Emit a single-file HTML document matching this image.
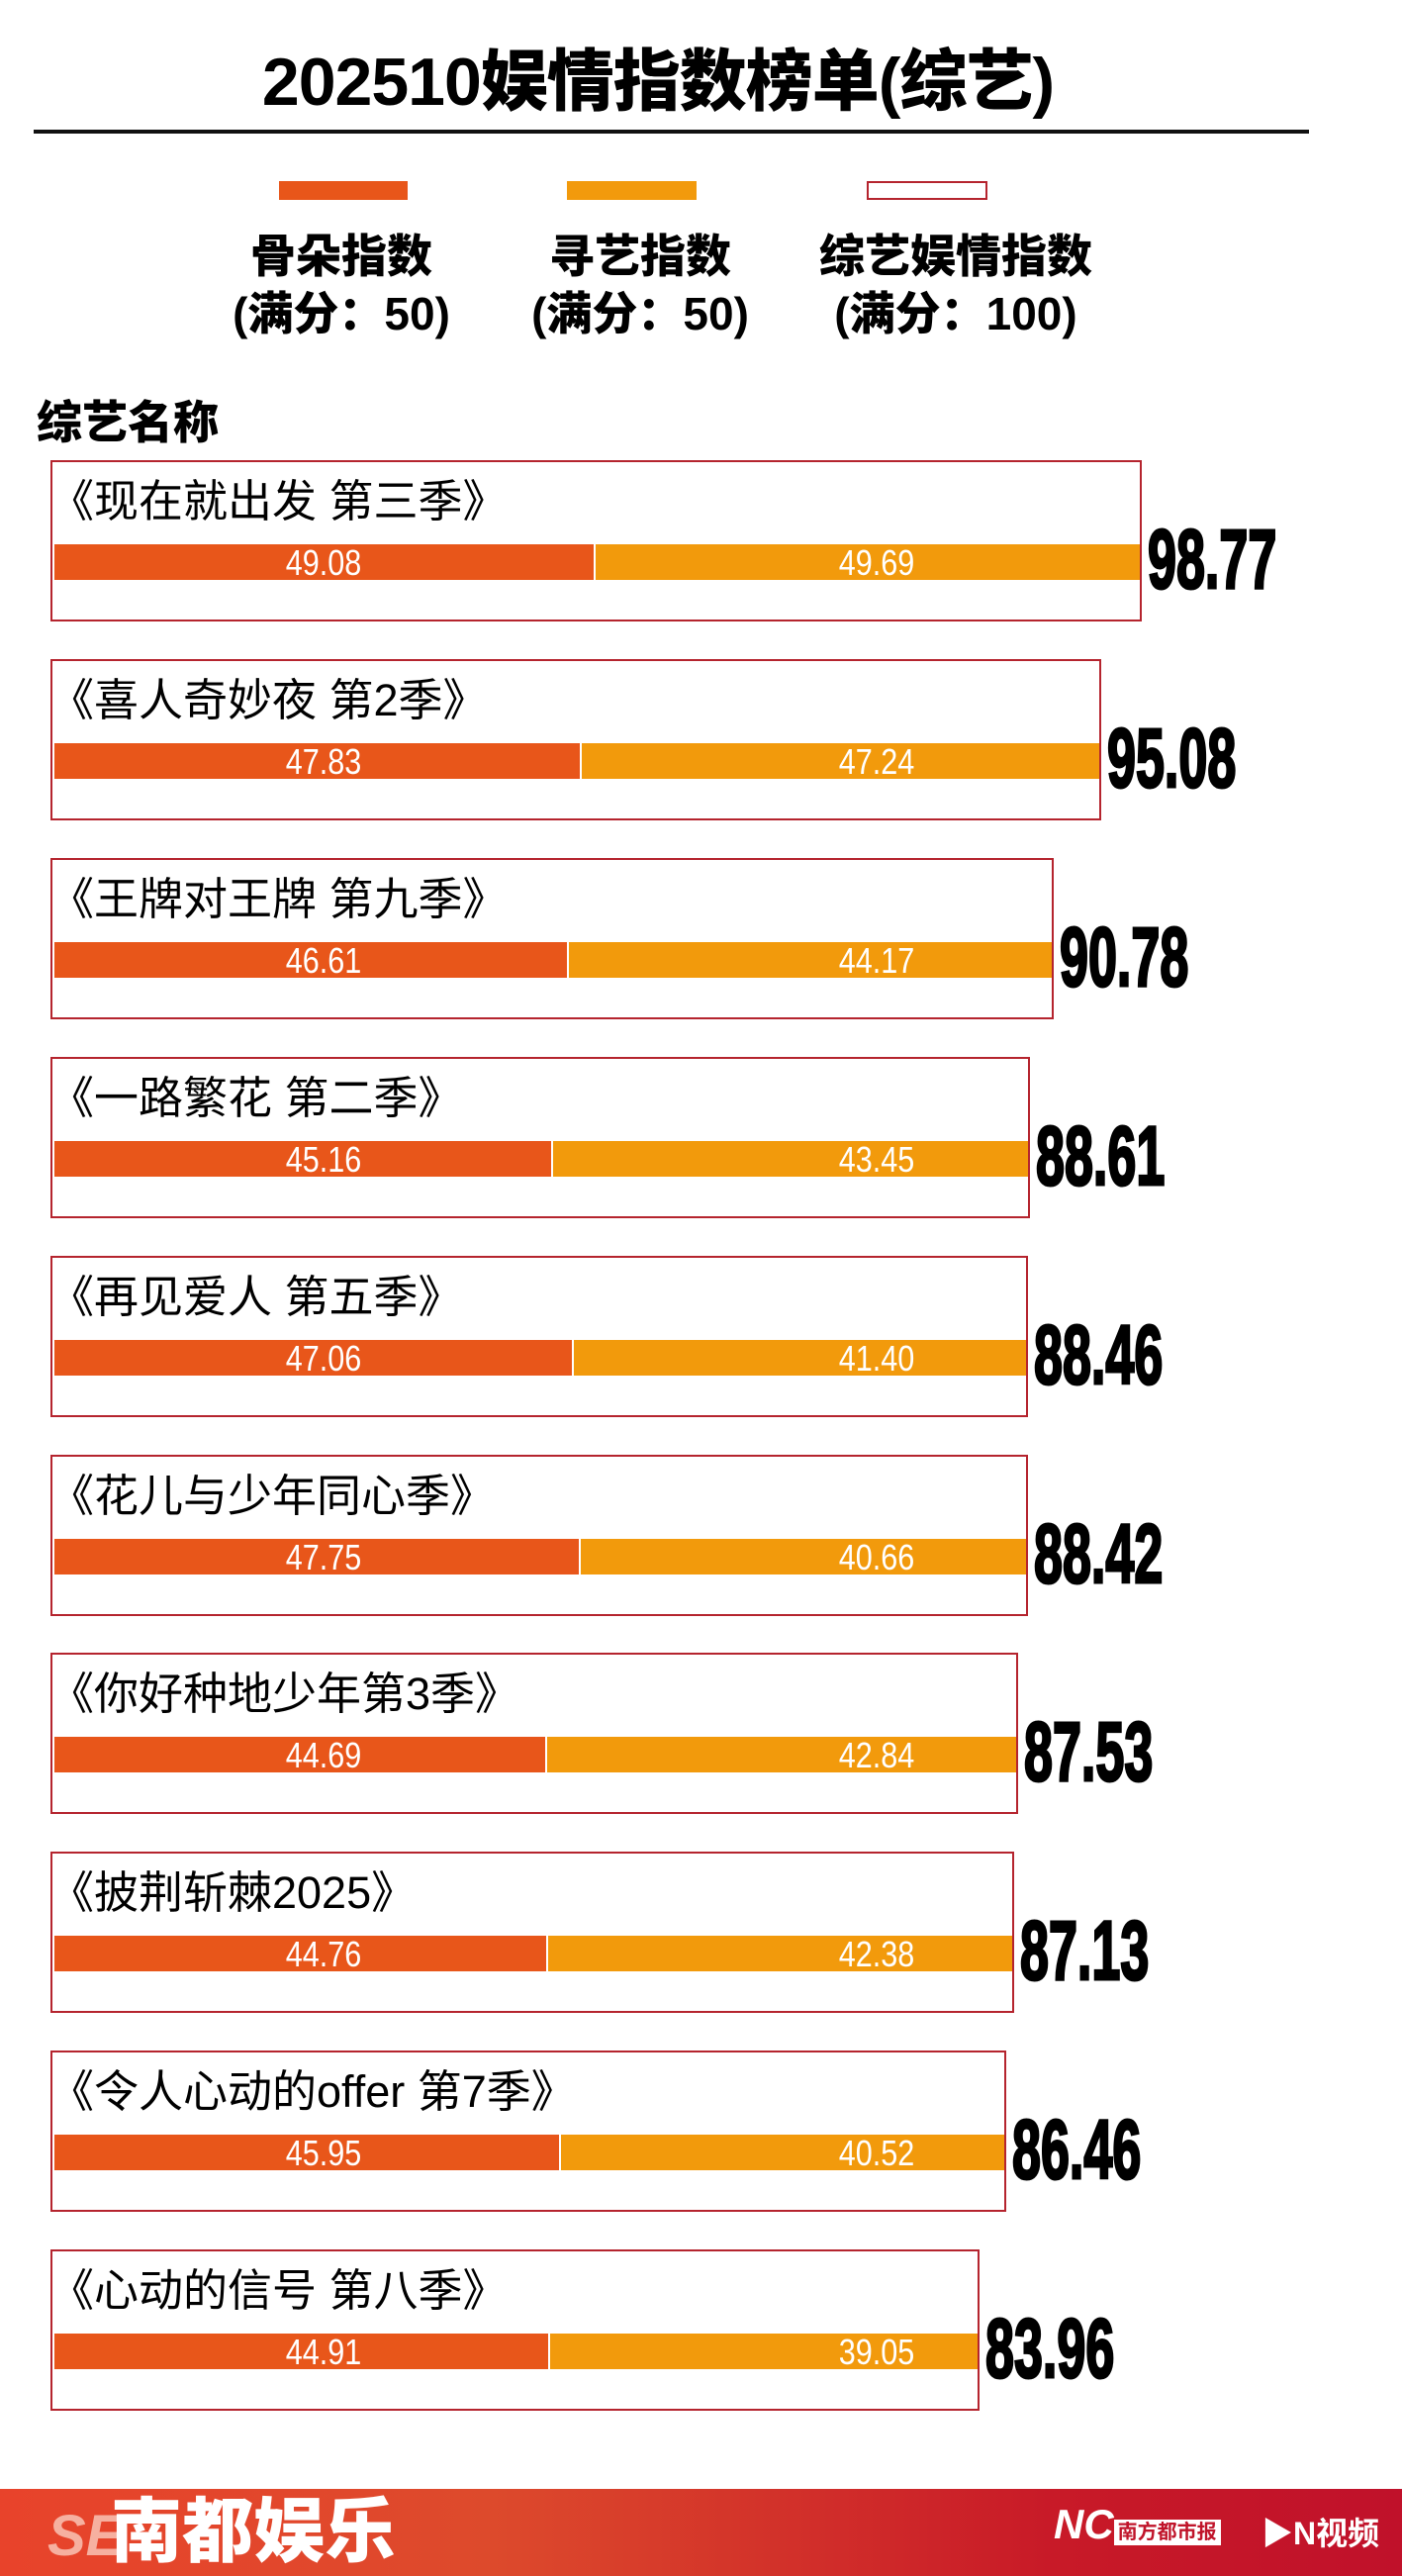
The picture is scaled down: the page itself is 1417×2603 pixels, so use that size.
<!DOCTYPE html>
<html><head><meta charset="utf-8">
<style>
html,body{margin:0;padding:0;background:#fff;}
#page{position:relative;width:1417px;height:2603px;overflow:hidden;background:#fff;font-family:"Liberation Sans","Noto Sans CJK SC",sans-serif;}
.abs{position:absolute;}
.cjk{font-family:"Liberation Sans","Noto Sans CJK SC",sans-serif;}
.title{left:0;width:1330px;top:40px;text-align:center;font-size:68px;font-weight:900;line-height:86px;letter-spacing:-1px;}
.leg{font-size:46px;font-weight:900;line-height:58px;text-align:center;width:400px;white-space:nowrap;}
.box{border:2px solid #b5242e;box-sizing:border-box;}
.name{font-size:45px;line-height:52px;white-space:nowrap;}
.val{color:#fff;font-size:36px;line-height:36px;transform:translateX(-50%) scaleX(0.85);white-space:nowrap;}
.total{font-size:84px;font-weight:bold;line-height:84px;transform-origin:0 50%;transform:scaleX(0.62);white-space:nowrap;-webkit-text-stroke:3px #000;}
</style></head>
<body>
<div id="page">
<div class="abs title cjk">202510娱情指数榜单(综艺)</div>
<div class="abs" style="left:34px;top:131px;width:1289px;height:4px;background:#111;"></div>

<div class="abs" style="left:282px;top:183px;width:130px;height:19px;background:#e8561a;"></div>
<div class="abs" style="left:573px;top:183px;width:131px;height:19px;background:#f29a0c;"></div>
<div class="abs" style="left:876px;top:183px;width:122px;height:19px;border:2px solid #b5242e;box-sizing:border-box;"></div>
<div class="abs leg cjk" style="left:145px;top:230px;">骨朵指数<br>(满分：50)</div>
<div class="abs leg cjk" style="left:447px;top:230px;">寻艺指数<br>(满分：50)</div>
<div class="abs leg cjk" style="left:766px;top:230px;">综艺娱情指数<br>(满分：100)</div>

<div class="abs cjk" style="left:37px;top:398px;font-size:46px;font-weight:900;line-height:58px;">综艺名称</div>

<div id="rows"></div>

<div class="abs" style="left:0;top:2515px;width:1417px;height:88px;background:linear-gradient(90deg,#e8432b 0%,#dd4a2c 35%,#c81a28 75%,#c0112a 100%);">
  <div class="abs" style="left:48px;top:14px;font-size:58px;font-weight:bold;color:#f6b0a0;font-style:italic;">SE</div>
  <div class="abs cjk" style="left:112px;top:4px;font-size:72px;font-weight:900;color:#fff;line-height:80px;">南都娱乐</div>
  <div class="abs" style="left:1065px;top:12px;font-size:42px;font-style:italic;color:#fff;font-weight:bold;">NC<span style="font-size:20px;background:#fff;color:#c0142a;padding:2px 4px;font-style:normal;">南方都市报</span></div>
  <div class="abs cjk" style="left:1275px;top:20px;font-size:32px;color:#fff;font-weight:bold;">▶N视频</div>
</div>
</div>

<script>
const names = ["《现在就出发 第三季》","《喜人奇妙夜 第2季》","《王牌对王牌 第九季》","《一路繁花 第二季》","《再见爱人 第五季》","《花儿与少年同心季》","《你好种地少年第3季》","《披荆斩棘2025》","《令人心动的offer 第7季》","《心动的信号 第八季》"];
const guduo = [49.08,47.83,46.61,45.16,47.06,47.75,44.69,44.76,45.95,44.91];
const xunyi = [49.69,47.24,44.17,43.45,41.40,40.66,42.84,42.38,40.52,39.05];
const totals = ["98.77","95.08","90.78","88.61","88.46","88.42","87.53","87.13","86.46","83.96"];

const x0 = 55, pxPer = 1097/98.77;
function xs(v){ return v*pxPer; }
const rowTop0 = 465, rowStep = 200.9;
const root = document.getElementById('rows');
function mk(cls, css, txt){
  const d = document.createElement('div');
  d.className = 'abs ' + cls;
  d.style.cssText = css;
  if (txt !== undefined) d.textContent = txt;
  root.appendChild(d);
  return d;
}
names.forEach((n,i)=>{
  const top = rowTop0 + i*rowStep;
  const w1 = xs(guduo[i]), w2 = xs(xunyi[i]);
  const right = x0 + w1 + w2;
  const box = mk('box', `left:51px;top:${top}px;width:${right-51+2}px;height:163px;`);
  
  
  const nm = mk('name cjk', `left:50px;top:${top+16}px;`, n);
  
  
  const b1 = mk('', `left:${x0}px;top:${top+85}px;width:${w1}px;height:36px;background:#e8561a;`);
  
  
  const b2 = mk('', `left:${x0+w1+2}px;top:${top+85}px;width:${w2-2}px;height:36px;background:#f29a0c;`);
  
  
  const v1 = mk('val', `left:327px;top:${top+86}px;`, guduo[i].toFixed(2));
  
  
  const v2 = mk('val', `left:886px;top:${top+86}px;`, xunyi[i].toFixed(2));
  
  
  const t = mk('total', `left:${right+8}px;top:${top+58}px;`, totals[i]);
  
  
});
</script>
</body></html>
